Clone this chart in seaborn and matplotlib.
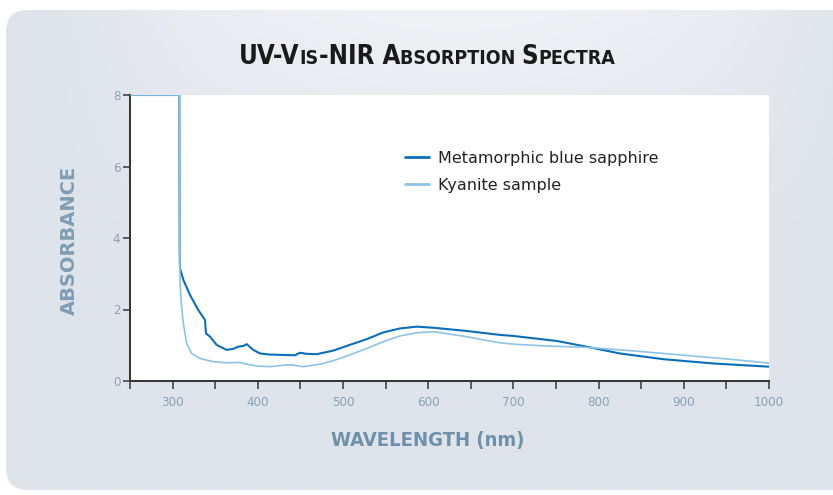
import numpy as np
import pandas as pd
import matplotlib
matplotlib.use("Agg")
import matplotlib.pyplot as plt
import seaborn as sns
from matplotlib.patches import FancyBboxPatch
from matplotlib.offsetbox import TextArea, HPacker, AnchoredOffsetbox
from matplotlib.ticker import MultipleLocator

# ---- data ----
sapphire_wl = [250, 307.9, 308.3, 308.7, 312.6, 320.4, 330, 338, 339.2, 343.9, 351.7, 363.4,
               371.3, 377, 383, 387, 394.7, 402.6, 414, 443.7, 449.5, 457.4, 469, 488.6, 508,
               527.8, 547.3, 566.9, 586.5, 606, 645, 684, 700, 750.8, 786, 825, 876, 934.6, 1000]
sapphire_abs = [8, 8, 3.66, 3.15, 2.83, 2.41, 1.99, 1.71, 1.33, 1.24, 1.01, 0.87,
                0.90, 0.96, 0.98, 1.03, 0.87, 0.77, 0.74, 0.72, 0.79, 0.76, 0.75, 0.85, 1.01,
                1.17, 1.36, 1.47, 1.52, 1.49, 1.40, 1.29, 1.26, 1.12, 0.96, 0.77, 0.61, 0.49, 0.40]
kyanite_wl = [250, 307.9, 308.7, 310.5, 312.6, 316.5, 322.4, 332, 347.8, 363.5, 379, 387,
              398.7, 414, 434, 440.5, 453.4, 473, 488.6, 508, 527.8, 547.3, 566.9, 586.5, 606,
              625.6, 645, 664.8, 684, 699.9, 738.9, 786, 836.8, 895.5, 954, 1000]
kyanite_abs = [8, 8, 2.73, 2.1, 1.61, 1.05, 0.77, 0.63, 0.54, 0.51, 0.52, 0.47,
               0.42, 0.40, 0.45, 0.45, 0.40, 0.47, 0.57, 0.73, 0.91, 1.10, 1.26, 1.35, 1.38,
               1.31, 1.24, 1.15, 1.07, 1.03, 0.98, 0.94, 0.85, 0.73, 0.61, 0.50]
series_names = ["Metamorphic blue sapphire", "Kyanite sample"]
x_ticks = [300, 400, 500, 600, 700, 800, 900, 1000]
y_ticks = [0, 2, 4, 6, 8]

df = pd.concat([
    pd.DataFrame({"wavelength": sapphire_wl, "absorbance": sapphire_abs, "sample": series_names[0]}),
    pd.DataFrame({"wavelength": kyanite_wl, "absorbance": kyanite_abs, "sample": series_names[1]}),
], ignore_index=True)

sns.set_theme(style="white")
plt.rcParams["font.family"] = ["DejaVu Sans"]

fig = plt.figure(figsize=(8.33, 4.95), dpi=100)
fig.patch.set_facecolor("white")

# background panel with gradient
bg = fig.add_axes([0, 0, 1, 1], zorder=-10)
bg.set_xlim(0, 833); bg.set_ylim(495, 0); bg.axis("off")
gx = np.linspace(0, 1, 400)
gy = np.linspace(0, 1, 240)
GX, GY = np.meshgrid(gx, gy)
light = np.clip(1 - ((GX - 0.5) / 0.45) ** 2, 0, 1) * np.clip(1 - GY / 0.55, 0, 1)
c0 = np.array([0xdf, 0xe4, 0xeb]) / 255
c1 = np.array([0xf0, 0xf1, 0xf5]) / 255
img = c0[None, None, :] + (c1 - c0)[None, None, :] * light[..., None]
panel = FancyBboxPatch((6, 10), 900, 480, boxstyle="round,pad=0,rounding_size=22",
                       facecolor="none", edgecolor="none")
bg.add_patch(panel)
im = bg.imshow(img, extent=(6, 906, 490, 10), aspect="auto", interpolation="bilinear")
im.set_clip_path(panel)

ax = fig.add_axes([130 / 833, 1 - 381 / 495, 639 / 833, 286 / 495])
ax.set_facecolor("white")
sns.lineplot(data=df, x="wavelength", y="absorbance", hue="sample", hue_order=series_names,
             palette=["#0a6fba", "#8cc3e8"], estimator=None, sort=True, ax=ax, linewidth=1.4)
lines = ax.get_lines()
if len(lines) >= 2:
    lines[0].set_linewidth(1.5)
    lines[1].set_linewidth(1.2)
    lines[1].set_zorder(3)
    for ln in lines[:2]:
        ln.set_solid_joinstyle("round")

ax.set_xlim(250, 1000)
ax.set_ylim(0, 8)
ax.set_xticks(x_ticks)
ax.xaxis.set_minor_locator(MultipleLocator(50))
ax.set_yticks(y_ticks)
tick_color = "#86a3b7"
ax.tick_params(axis="x", which="both", direction="out", length=6, width=1.2, color="#444444",
               labelcolor=tick_color, labelsize=9.5, pad=5, bottom=True)
ax.tick_params(axis="y", which="both", direction="out", length=5, width=1.2, color="#444444",
               labelcolor=tick_color, labelsize=9.5, pad=2, left=True)
for lab in ax.get_xticklabels() + ax.get_yticklabels():
    lab.set_fontfamily("DejaVu Sans")
    lab.set_fontstretch("condensed")
sns.despine(ax=ax, top=True, right=True)
for s in ("left", "bottom"):
    ax.spines[s].set_color("#333333")
    ax.spines[s].set_linewidth(1.4)
ax.set_xlabel("")
ax.set_ylabel("")

leg = ax.legend(loc="upper left", bbox_to_anchor=(0.431, 0.805), frameon=False,
                fontsize=11.5, handlelength=1.5, handletextpad=0.55, labelspacing=0.75,
                borderaxespad=0, borderpad=0)
for t in leg.get_texts():
    t.set_color("#222222")
for h in leg.get_lines():
    h.set_linewidth(2)

# title with small caps
parts = [("UV-V", 18.5), ("IS", 14), ("-NIR A", 18.5), ("BSORPTION ", 14), ("S", 18.5), ("PECTRA", 14)]
areas = [TextArea(t, textprops=dict(fontsize=s, fontweight="bold", color="#1a1a1a",
                                    family="DejaVu Sans", fontstretch="condensed")) for t, s in parts]
pack = HPacker(children=areas, align="baseline", pad=0, sep=0)
ab = AnchoredOffsetbox(loc="center", child=pack, bbox_to_anchor=(0.513, 0.885),
                       bbox_transform=fig.transFigure, frameon=False, pad=0, borderpad=0)
fig.add_artist(ab)

fig.text(0.083, 0.515, "ABSORBANCE", rotation=90, ha="center", va="center",
         fontsize=14, fontweight="bold", color="#7f9db3")
fig.text(0.513, 0.111, "WAVELENGTH (nm)", ha="center", va="center",
         fontsize=14.5, fontweight="bold", color="#6e91ab", family="DejaVu Sans",
         fontstretch="condensed")

fig.savefig("out.png", dpi=100, facecolor="white")
